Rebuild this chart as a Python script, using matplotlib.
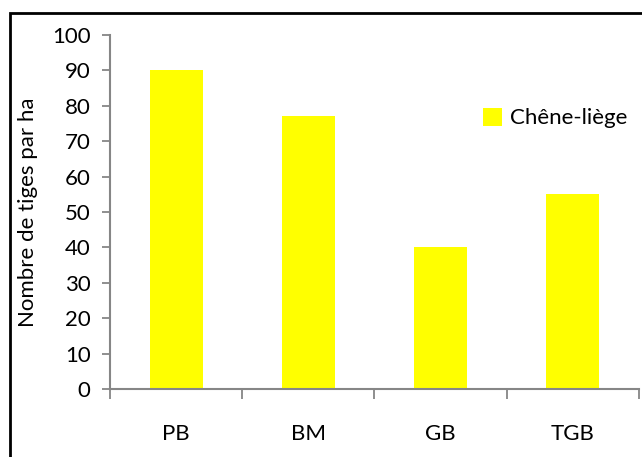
import matplotlib.pyplot as plt
from matplotlib.patches import Rectangle

# stem density per diameter class
classes = ["PB", "BM", "GB", "TGB"]
tiges = [90, 77, 40, 55]
y_ticks = list(range(0, 101, 10))

plt.rcParams['font.family'] = ['Lato', 'DejaVu Sans']

fig = plt.figure(figsize=(6.42, 4.57), dpi=100)
ax = fig.add_axes([0.1713, 0.1488, 0.8240, 0.7746])

x = range(len(classes))
ax.bar(x, tiges, width=0.4, color="#FFFF00", label="Chêne-liège", zorder=2)

fs = 16
ax.set_xlim(-0.5, len(classes) - 0.5)
ax.set_ylim(0, 100)
ax.set_yticks(y_ticks)
ax.set_xticks(list(x))
ax.set_xticklabels(classes)
# category separators as minor ticks on the x axis
ax.set_xticks([i - 0.5 for i in range(len(classes) + 1)], minor=True)
ax.tick_params(axis="x", which="major", length=0, pad=25, labelsize=fs)
ax.tick_params(axis="x", which="minor", length=7, width=1.3, color="#868686", direction="out")
ax.tick_params(axis="y", length=6, width=1.3, color="#868686", direction="out", labelsize=fs, pad=8)

for side in ["top", "right"]:
    ax.spines[side].set_visible(False)
for side in ["left", "bottom"]:
    ax.spines[side].set_color("#868686")
    ax.spines[side].set_linewidth(1.5)

ax.set_ylabel("Nombre de tiges par ha", fontsize=fs, labelpad=10)

ax.legend(loc="center left", bbox_to_anchor=(0.685, 0.765), frameon=False,
          fontsize=fs, handlelength=0.85, handleheight=0.85, handletextpad=0.35,
          borderpad=0)

# outer chart frame
fig.patches.append(Rectangle((10 / 642, -0.05), 1.0, 0.05 + 1 - 13 / 457,
                             transform=fig.transFigure, fill=False,
                             edgecolor="black", linewidth=2))

fig.savefig("out.png", dpi=100)
